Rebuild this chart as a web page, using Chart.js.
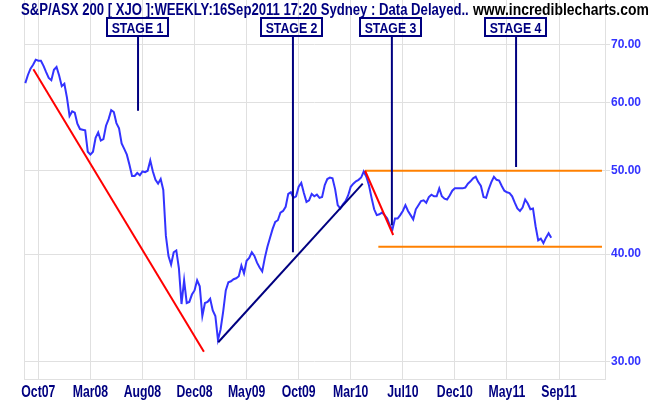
<!DOCTYPE html>
<html lang="en">
<head>
    <meta charset="UTF-8">
    <title>S&amp;P/ASX 200 Weekly</title>
    <script src="https://cdn.jsdelivr.net/npm/chart.js"></script>
    <style>
        body {
            margin: 0;
            background: #ffffff;
        }
        .wrap {
            width: 660px;
            height: 405px;
            position: relative;
        }
    </style>
</head>
<body>
    <div class="wrap">
        <canvas id="xjoChart"></canvas>
    </div>

    <script>
        // weekly closes, in hundreds of index points (axis units), one per week
        const weeklyClose = [
            63.2, 64.6, 65.7, 66.4, 67.3, 67.1, 67.1, 66.2, 65.1, 64.1,
            63.7, 65.5, 66.0, 64.5, 62.7, 63.1, 60.8, 57.9, 58.6, 58.4,
            56.7, 55.9, 55.8, 55.7, 52.6, 52.2, 52.6, 54.6, 55.4, 54.2,
            54.4, 56.4, 57.4, 58.8, 58.5, 56.8, 56.0, 53.8, 53.0, 52.2,
            50.8, 49.3, 49.3, 49.7, 49.4, 49.9, 49.8, 50.0, 51.4, 49.9,
            48.8, 48.3, 48.9, 47.5, 42.0, 39.8, 38.9, 40.2, 40.4, 38.5,
            35.0, 37.3, 35.1, 35.2, 35.9, 36.3, 37.3, 36.7, 33.9, 35.1,
            35.2, 35.5, 34.4, 33.9, 31.8, 32.7, 34.3, 36.3, 37.1, 37.2,
            37.4, 37.5, 37.7, 38.8, 38.0, 39.3, 39.6, 40.2, 39.8, 39.1,
            38.6, 38.2, 39.6, 40.8, 41.8, 42.8, 43.6, 43.8, 44.7, 44.9,
            45.4, 47.0, 47.2, 46.5, 46.7, 47.9, 48.4, 47.1, 46.0, 46.2,
            47.0, 46.7, 46.9, 46.5, 46.6, 48.1, 48.9, 49.1, 49.0, 47.6,
            45.6, 45.2, 45.7, 46.1, 46.8, 47.9, 48.3, 48.6, 48.8, 49.1,
            49.9, 49.2, 48.1, 46.5, 45.1, 44.4, 44.5, 44.7, 44.4, 44.0,
            43.2, 42.7, 44.0, 44.0, 44.4, 44.9, 45.6, 44.9, 44.4, 43.9,
            45.1, 45.6, 46.1, 46.2, 45.9, 46.6, 46.9, 46.7, 46.7, 47.7,
            46.7, 46.4, 46.3, 46.8, 47.4, 47.7, 47.7, 47.7, 47.7, 47.8,
            48.3, 48.6, 49.0, 49.2, 48.5, 48.0, 46.6, 46.5, 47.6, 48.5,
            49.2, 48.8, 48.7, 48.0, 47.4, 47.2, 47.1, 46.7, 45.9, 45.2,
            44.9, 45.3, 46.3, 45.8, 45.1, 45.2, 43.1, 41.5, 41.7, 41.2,
            41.8, 42.3, 41.8
        ];

        const xTickWeeks = [5, 25, 45, 65, 85, 105, 125, 145, 165, 185, 205];
        const xTickLabels = ['Oct07', 'Mar08', 'Aug08', 'Dec08', 'May09', 'Oct09',
                             'Mar10', 'Jul10', 'Dec10', 'May11', 'Sep11'];
        const yTickValues = [30, 40, 50, 60, 70];

        // trend lines as [week, value] end points
        const stage1Down = [[3.1, 65.6], [68.6, 30.8]];
        const stage2Up = [[74.1, 31.6], [129.6, 48.3]];
        const stage3Down = [[130.5, 50.0], [141.3, 42.1]];
        const rangeTop = [[130.5, 50.0], [221.5, 50.0]];
        const rangeBottom = [[135.6, 40.8], [221.5, 40.8]];

        const stageNames = ['STAGE 1', 'STAGE 2', 'STAGE 3', 'STAGE 4'];
        const stageWeeks = [43.3, 102.8, 140.8, 188.5];
        const stageLineEnds = [58.7, 40.2, 43.2, 50.5];

        const titleMain = 'S&P/ASX 200 [ XJO ]:WEEKLY:16Sep2011 17:20 Sydney : Data Delayed..';
        const titleSite = 'www.incrediblecharts.com';

        const NAVY = '#000080';
        const FONT = "'Liberation Sans', Arial, sans-serif";
        const NARROW = 0.82; // squeeze to mimic a narrow bold face

        function toPoints(pairs) {
            return pairs.map(p => ({ x: p[0], y: p[1] }));
        }

        function segment(pairs, color) {
            return {
                data: toPoints(pairs),
                borderColor: color,
                borderWidth: 2,
                pointRadius: 0,
                fill: false,
                tension: 0
            };
        }

        function narrowText(ctx, text, x, y, align, sx) {
            ctx.save();
            ctx.translate(x, y);
            ctx.scale(sx || NARROW, 1);
            ctx.textAlign = align;
            ctx.fillText(text, 0, 0);
            ctx.restore();
        }

        const overlay = {
            id: 'overlay',
            beforeDatasetsDraw(chart) {
                const ctx = chart.ctx;
                const a = chart.chartArea;
                ctx.save();
                ctx.strokeStyle = '#e0e0e0';
                ctx.lineWidth = 1;
                ctx.beginPath();
                ctx.moveTo(a.left + 0.5, a.top);
                ctx.lineTo(a.left + 0.5, a.bottom);
                ctx.stroke();
                ctx.restore();
            },
            afterDraw(chart) {
                const ctx = chart.ctx;
                const xs = chart.scales.x;
                const ys = chart.scales.y;
                const a = chart.chartArea;
                ctx.save();
                ctx.textBaseline = 'alphabetic';

                // x axis labels
                ctx.font = 'bold 17px ' + FONT;
                ctx.fillStyle = NAVY;
                xs.ticks.forEach(t => {
                    const i = xTickWeeks.indexOf(t.value);
                    narrowText(ctx, xTickLabels[i], xs.getPixelForValue(t.value), a.bottom + 18, 'center', 0.72);
                });

                // title
                ctx.font = 'bold 16px ' + FONT;
                ctx.fillStyle = NAVY;
                narrowText(ctx, titleMain, 21, 15, 'left');
                ctx.fillStyle = '#000000';
                narrowText(ctx, titleSite, 473, 15, 'left', 0.87);

                // stage boxes and markers
                ctx.font = 'bold 15px ' + FONT;
                stageNames.forEach((name, i) => {
                    const px = xs.getPixelForValue(stageWeeks[i]);
                    const boxW = 61, boxH = 18;
                    const bx = Math.round(px - boxW / 2) - 1;
                    const by = a.top + 18;
                    ctx.strokeStyle = NAVY;
                    ctx.lineWidth = 2;
                    ctx.strokeRect(bx, by, boxW, boxH);
                    ctx.fillStyle = NAVY;
                    narrowText(ctx, name, bx + boxW / 2, by + 15, 'center');

                    ctx.beginPath();
                    ctx.lineWidth = 2;
                    ctx.moveTo(px, by + boxH + 1);
                    ctx.lineTo(px, ys.getPixelForValue(stageLineEnds[i]));
                    ctx.stroke();
                });
                ctx.restore();
            }
        };

        const ctx = document.getElementById('xjoChart').getContext('2d');
        new Chart(ctx, {
            type: 'line',
            data: {
                datasets: [
                    segment(stage1Down, '#ff0000'),
                    segment(stage2Up, NAVY),
                    segment(stage3Down, '#ff0000'),
                    segment(rangeTop, '#ff8000'),
                    segment(rangeBottom, '#ff8000'),
                    {
                        data: weeklyClose.map((v, i) => ({ x: i, y: v })),
                        borderColor: '#3333ff',
                        borderWidth: 2,
                        pointRadius: 0,
                        fill: false,
                        tension: 0
                    }
                ]
            },
            options: {
                responsive: true,
                maintainAspectRatio: false,
                animation: false,
                layout: { padding: { left: 24, top: 0, right: 0, bottom: 0 } },
                plugins: {
                    legend: { display: false },
                    tooltip: { enabled: false }
                },
                scales: {
                    x: {
                        type: 'linear',
                        min: -0.5,
                        max: 222.66,
                        afterBuildTicks: s => { s.ticks = xTickWeeks.map(v => ({ value: v })); },
                        afterFit: s => {
                            s.height = 26;
                            s.paddingLeft = 0;
                            s.paddingRight = 0;
                        },
                        grid: { color: '#e0e0e0', drawTicks: false },
                        border: { color: '#e0e0e0' },
                        ticks: { display: false }
                    },
                    y: {
                        type: 'logarithmic',
                        position: 'right',
                        min: 28.64,
                        max: 78.95,
                        afterBuildTicks: s => { s.ticks = yTickValues.map(v => ({ value: v })); },
                        afterFit: s => {
                            s.width = 55;
                            s.paddingTop = 0;
                            s.paddingBottom = 0;
                        },
                        grid: { color: '#e0e0e0', tickLength: 5 },
                        border: { color: '#e0e0e0' },
                        ticks: {
                            padding: 1,
                            color: '#3333ff',
                            font: { family: FONT, size: 12, weight: 'bold' },
                            callback: v => Number(v).toFixed(2)
                        }
                    }
                }
            },
            plugins: [overlay]
        });
    </script>
</body>
</html>
